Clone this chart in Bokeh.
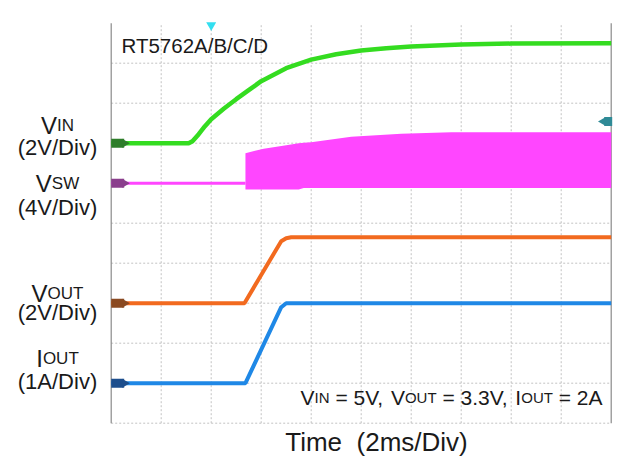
from bokeh.plotting import figure
from bokeh.models import Range1d, Label
from bokeh.embed import file_html
from bokeh.resources import INLINE
import math

# ---------------- data (time in ms, physical units) ----------------
ms_per_div = 2.0
n_xdiv = 10
n_ydiv = 10
xgrid_ticks = [2, 4, 6, 8, 10, 12, 14, 16, 18]          # ms
ygrid_ticks = [0, 1, 2, 3, 4, 5, 6, 7, 8, 9]             # div

# VIN (2V/Div), offset 7 div
vin_t = [0, 3.1, 3.25, 3.5, 3.75, 4.0, 4.5, 5.0, 5.5, 6.0, 7.0, 8.0, 9.0, 10.0, 11.0, 12.0, 14.0, 16.0, 20.0]
vin_v = [0, 0, 0.1, 0.45, 0.85, 1.2, 1.72, 2.2, 2.65, 3.1, 3.75, 4.18, 4.45, 4.63, 4.75, 4.83, 4.93, 4.98, 5.0]
vin_scale, vin_off = 2.0, 7

# VSW (4V/Div), offset 6 div
vsw_base_t = [0, 5.37]
vsw_base_v = [0, 0]
vsw_t = [5.37, 6.1, 7.0, 7.5, 7.7, 8.0, 9.6, 11.6, 13.6, 20.0]
vsw_top = [3.0, 3.45, 3.8, 4.0, 4.05, 4.1, 4.65, 4.95, 5.1, 5.1]
vsw_bot = [-0.62, -0.62, -0.62, -0.62, -0.48, -0.48, -0.48, -0.48, -0.48, -0.48]
vsw_scale, vsw_off = 4.0, 6

# VOUT (2V/Div), offset 3 div
vout_t = [0, 5.33, 6.8, 7.0, 7.2, 20.0]
vout_v = [0, 0, 3.1, 3.25, 3.3, 3.3]
vout_scale, vout_off = 2.0, 3

# IOUT (1A/Div), offset 1 div
iout_t = [0, 5.37, 6.8, 7.0, 7.2, 20.0]
iout_v = [0, 0, 1.9, 2.0, 2.0, 2.0]
iout_scale, iout_off = 1.0, 1

trigger_t = 4.0
trig_level_div = 7.54

def to_div(vals, scale, off):
    return [off + v / scale for v in vals]

# ---------------- geometry ----------------
XMAX = ms_per_div * n_xdiv
CW, CH = 630, 460
SX0, SYT = 110.7, 22.7          # scope area left / top in canvas pixels
PXMS = 500 / XMAX               # px per ms
PXDIV = 400 / n_ydiv            # px per div
SYB = SYT + 400

p = figure(width=CW, height=CH, output_backend="svg", toolbar_location=None,
           x_range=Range1d(-SX0 / PXMS, (CW - SX0) / PXMS),
           y_range=Range1d((SYB - CH) / PXDIV, SYB / PXDIV),
           x_axis_type=None, y_axis_type=None,
           min_border_left=0, min_border_right=0, min_border_top=0, min_border_bottom=0)
p.outline_line_color = None
p.background_fill_color = "white"
p.border_fill_color = "white"

GRID = "#c2c2c2"
p.segment(x0=xgrid_ticks, y0=[0] * len(xgrid_ticks), x1=xgrid_ticks, y1=[n_ydiv] * len(xgrid_ticks),
          line_color=GRID, line_dash="2 2", line_width=1)
p.segment(x0=[0] * len(ygrid_ticks), y0=ygrid_ticks, x1=[XMAX] * len(ygrid_ticks), y1=ygrid_ticks,
          line_color=GRID, line_dash="2 2", line_width=1)
p.segment(x0=[0, XMAX], y0=[0, 0], x1=[0, XMAX], y1=[n_ydiv, n_ydiv],
          line_color="#8a8a8a", line_width=1.2)

GREEN = "#34dc20"
MAGENTA = "#ff46ff"
ORANGE = "#f26a1f"
BLUE = "#1f88e6"

# traces
p.line(vsw_base_t, to_div(vsw_base_v, vsw_scale, vsw_off), line_color=MAGENTA, line_width=3)
p.varea(x=vsw_t, y1=to_div(vsw_bot, vsw_scale, vsw_off), y2=to_div(vsw_top, vsw_scale, vsw_off),
        fill_color=MAGENTA)
p.line(vin_t, to_div(vin_v, vin_scale, vin_off), line_color=GREEN, line_width=4.5)
p.line(vout_t, to_div(vout_v, vout_scale, vout_off), line_color=ORANGE, line_width=4)
p.line(iout_t, to_div(iout_v, iout_scale, iout_off), line_color=BLUE, line_width=4)

# channel markers at left edge
mk_cols = ["#2e7d2a", "#8a3f8c", "#8a4a22", "#1d4e8c"]
mk_y = [vin_off, vsw_off, vout_off, iout_off]
p.rect(x=[6.5 / PXMS] * 4, y=mk_y, width=13, height=9, width_units="screen", height_units="screen",
       fill_color=mk_cols, line_color=None)
p.scatter(x=[13.5 / PXMS] * 4, y=mk_y, marker="triangle", size=9, angle=-math.pi / 2,
          fill_color=mk_cols, line_color=None)
# trigger level marker on the right edge
p.rect(x=[XMAX - 3 / PXMS], y=[trig_level_div], width=8, height=9, width_units="screen",
       height_units="screen", fill_color="#2f8a96", line_color=None)
p.scatter(x=[XMAX - 8 / PXMS], y=[trig_level_div], marker="triangle", size=9, angle=math.pi / 2,
          fill_color="#2f8a96", line_color=None)
# trigger position marker at top
p.scatter(x=[trigger_t], y=[n_ydiv - 0.05], marker="inverted_triangle", size=10,
          fill_color="#33dff0", line_color=None)

# ---------------- texts ----------------
TSHIFT = -7.0   # correction for rendered baseline
def dx(px):
    return (px - SX0) / PXMS
def dy(py):
    return (SYB - (py + TSHIFT)) / PXDIV

W = {"V": .667, "I": .278, "N": .722, "S": .667, "W": .944, "O": .778, "U": .722, "T": .611,
     " ": .278, "=": .584, "5": .556, ",": .278, "3": .556, ".": .278, "2": .556, "A": .667}
def tw(s, fs):
    return sum(W[c] for c in s) * fs

FONT = "Liberation Sans"
TXT = "#1a1a1a"
def rich(segs, x_px, base_px, align="left"):
    total = sum(tw(s, fs) for s, fs in segs)
    if align == "center":
        x = x_px - total / 2
    elif align == "right":
        x = x_px - total
    else:
        x = x_px
    for s, fs in segs:
        lead = len(s) - len(s.lstrip(" "))
        st = s.strip(" ")
        p.add_layout(Label(x=dx(x + tw(" " * lead, fs)), y=dy(base_px), text=st, text_font=FONT,
                           text_font_size=f"{fs}px", text_color=TXT,
                           text_baseline="alphabetic", text_align="left"))
        x += tw(s, fs)

def plain(s, x_px, base_px, fs, align="center"):
    p.add_layout(Label(x=dx(x_px), y=dy(base_px), text=s, text_font=FONT,
                       text_font_size=f"{fs}px", text_color=TXT,
                       text_baseline="alphabetic", text_align=align))

BIG, SMALL, PAR = 24, 17, 22
CX = 57
rich([("V", BIG), ("IN", SMALL)], CX, 132, "center")
plain("(2V/Div)", CX, 154, PAR)
rich([("V", BIG), ("SW", SMALL)], CX, 190, "center")
plain("(4V/Div)", CX, 214, PAR)
rich([("V", BIG), ("OUT", SMALL)], CX, 300, "center")
plain("(2V/Div)", CX, 319, PAR)
rich([("I", BIG), ("OUT", SMALL)], CX, 365, "center")
plain("(1A/Div)", CX, 388, PAR)

plain("RT5762A/B/C/D", 121, 52, 20.5, align="left")
rich([("V", 21), ("IN", 15), (" = 5V, ", 21), ("V", 21), ("OUT", 15), (" = 3.3V, ", 21),
      ("I", 21), ("OUT", 15), (" = 2A", 21)], 602, 404, "right")
plain("Time\u00a0\u00a0(2ms/Div)", 376, 448, 26)

open("out.html", "w").write(file_html(p, INLINE))
